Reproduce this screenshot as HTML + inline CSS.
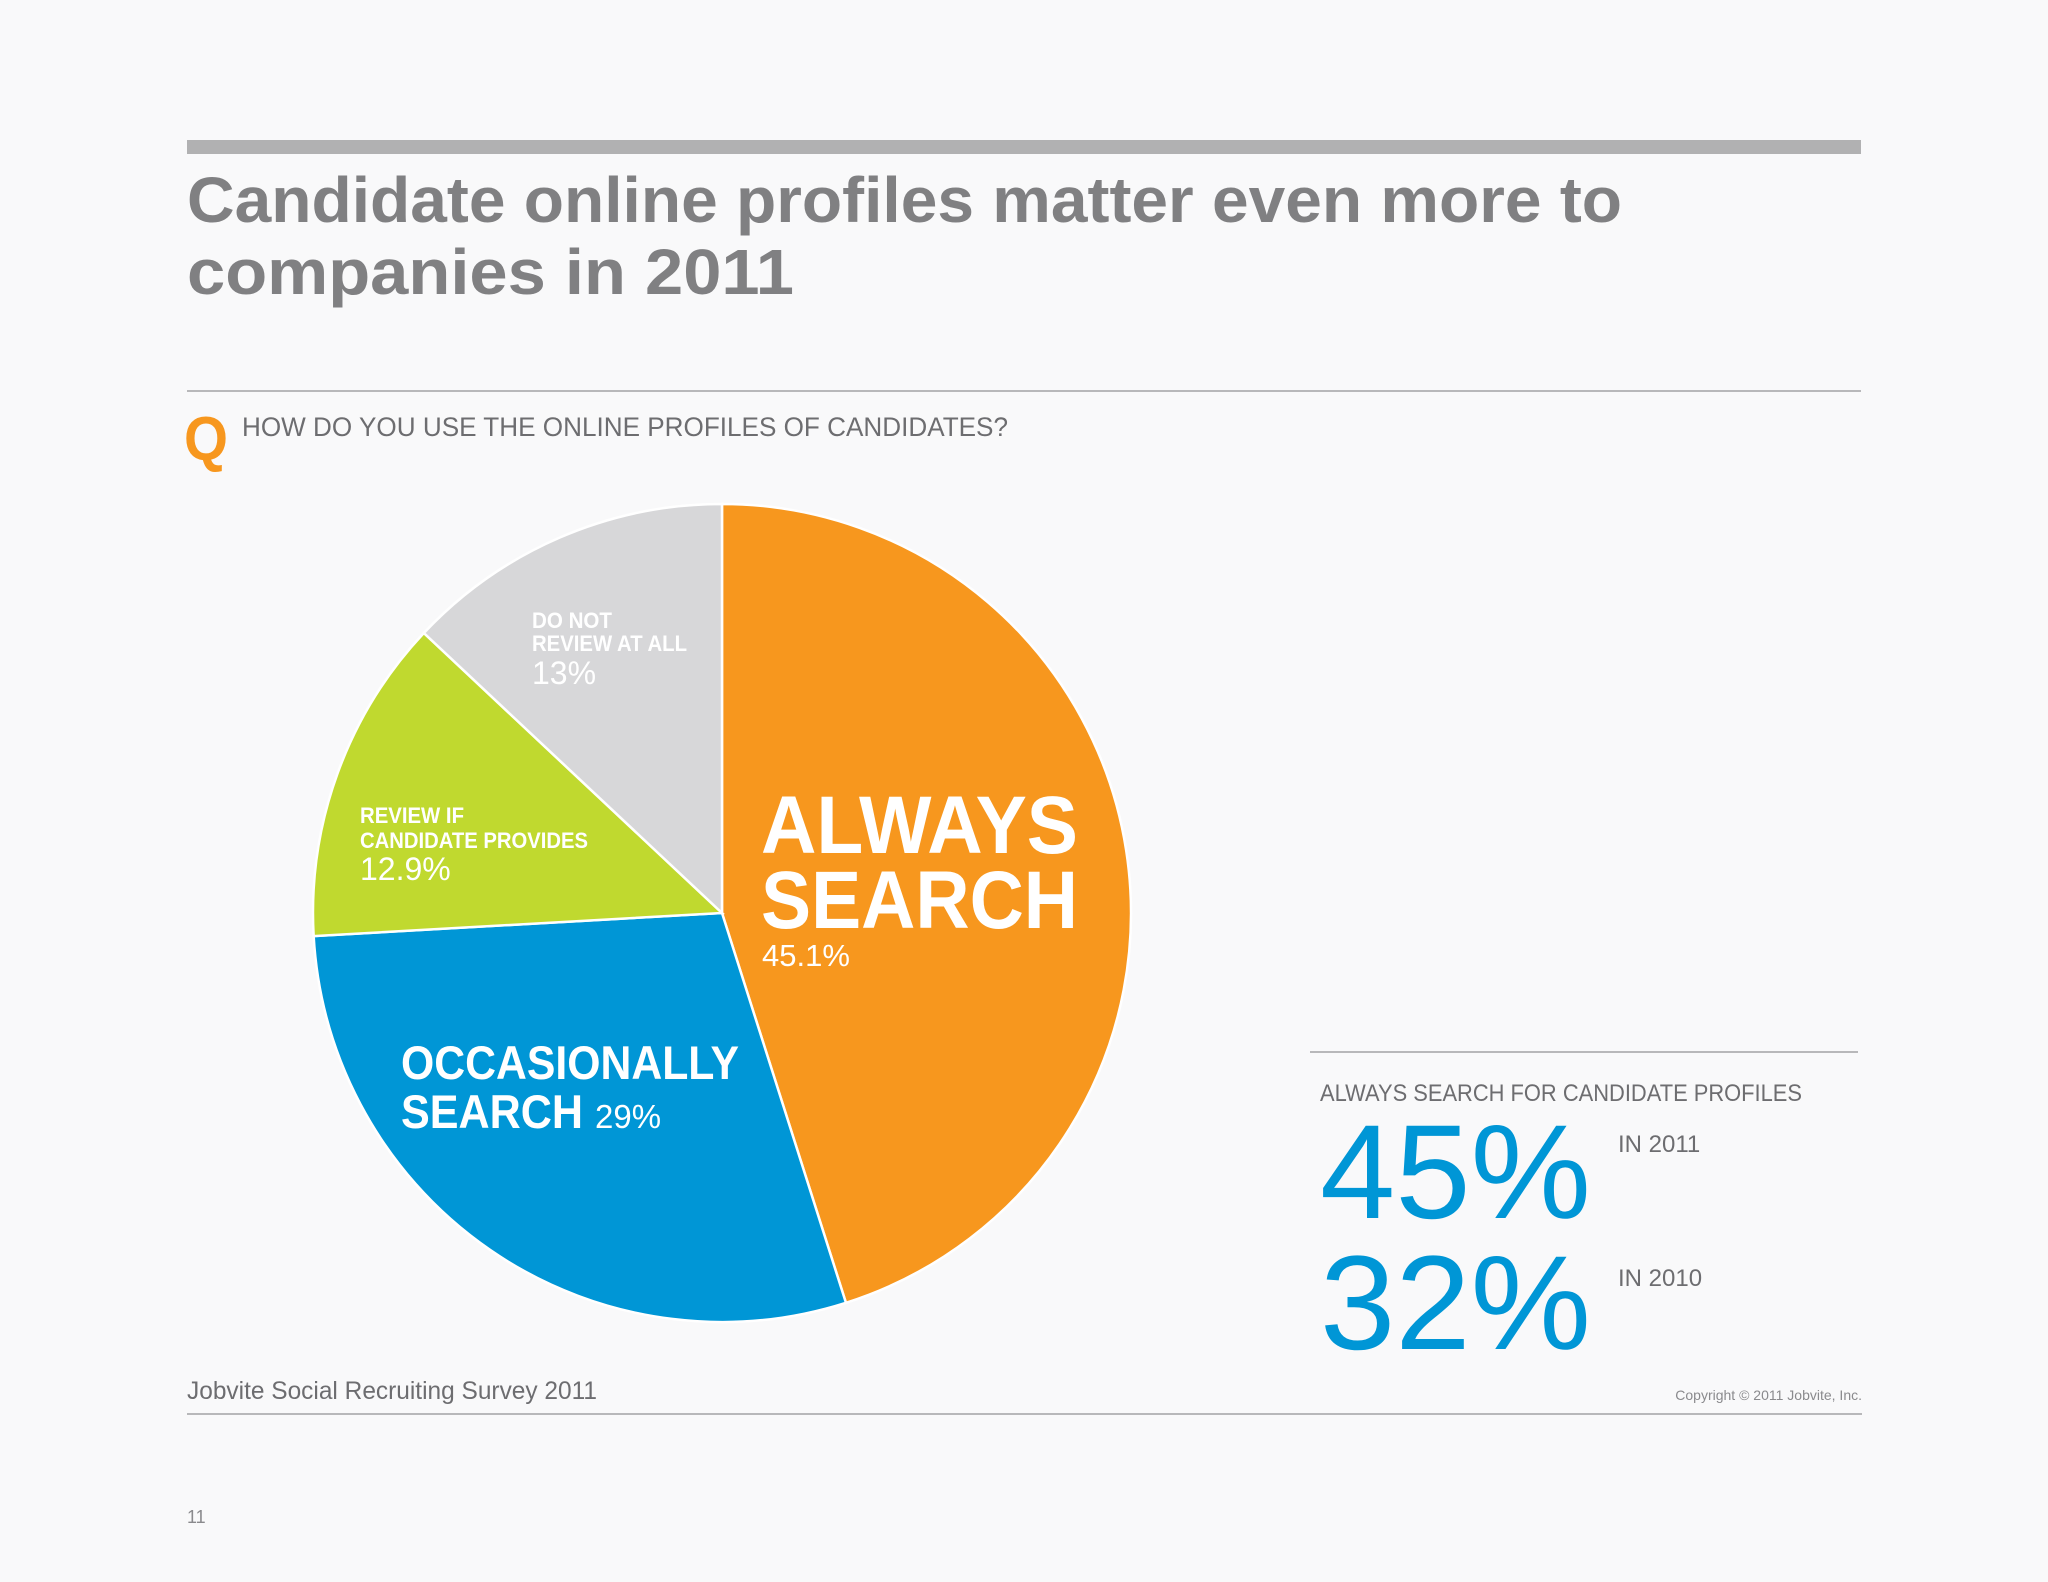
<!DOCTYPE html>
<html><head><meta charset="utf-8"><style>
html,body{margin:0;padding:0;background:#f9f9fa;}
svg{display:block;font-family:"Liberation Sans",Arial,sans-serif;}
</style></head><body>
<svg id="chart" width="2048" height="1582" viewBox="0 0 2048 1582" xmlns="http://www.w3.org/2000/svg">
<rect x="0" y="0" width="2048" height="1582" fill="#f9f9fa"/>
<rect x="187" y="140" width="1674" height="14" fill="#b1b1b2"/>
<text x="187" y="222" font-size="64" font-weight="bold" fill="#808082" textLength="1435" lengthAdjust="spacingAndGlyphs">Candidate online profiles matter even more to</text>
<text x="187" y="294" font-size="64" font-weight="bold" fill="#808082" textLength="607" lengthAdjust="spacingAndGlyphs">companies in 2011</text>
<rect x="187" y="390" width="1674" height="2" fill="#b8b8ba"/>
<text x="184" y="460" font-size="62" font-weight="bold" fill="#f7971e" textLength="44" lengthAdjust="spacingAndGlyphs">Q</text>
<text x="242" y="436" font-size="27" fill="#6d6d70" textLength="766" lengthAdjust="spacingAndGlyphs">HOW DO YOU USE THE ONLINE PROFILES OF CANDIDATES?</text>
<g id="pie"></g>
<g fill="#ffffff" font-weight="bold">
<text x="532" y="628" font-size="22" textLength="80" lengthAdjust="spacingAndGlyphs">DO NOT</text>
<text x="532" y="651" font-size="22" textLength="155" lengthAdjust="spacingAndGlyphs">REVIEW AT ALL</text>
<text x="532" y="684" font-size="32" font-weight="normal">13%</text>
<text x="360" y="823" font-size="22" textLength="104" lengthAdjust="spacingAndGlyphs">REVIEW IF</text>
<text x="360" y="848" font-size="22" textLength="228" lengthAdjust="spacingAndGlyphs">CANDIDATE PROVIDES</text>
<text x="360" y="880" font-size="32" font-weight="normal">12.9%</text>
<text x="761" y="853" font-size="82" textLength="317" lengthAdjust="spacingAndGlyphs">ALWAYS</text>
<text x="761" y="928" font-size="82" textLength="317" lengthAdjust="spacingAndGlyphs">SEARCH</text>
<text x="762" y="966" font-size="31" font-weight="normal">45.1%</text>
<text x="401" y="1079" font-size="47" textLength="338" lengthAdjust="spacingAndGlyphs">OCCASIONALLY</text>
<text x="401" y="1128" font-size="47" textLength="182" lengthAdjust="spacingAndGlyphs">SEARCH</text>
<text x="595" y="1128" font-size="33" font-weight="normal">29%</text>
</g>
<rect x="1310" y="1051" width="548" height="2" fill="#b8b8ba"/>
<text x="1320" y="1101" font-size="24" fill="#6d6d70" textLength="482" lengthAdjust="spacingAndGlyphs">ALWAYS SEARCH FOR CANDIDATE PROFILES</text>
<text x="1320" y="1218" font-size="134" fill="#0096d6" textLength="271" lengthAdjust="spacingAndGlyphs">45%</text>
<text x="1618" y="1152" font-size="24" fill="#6d6d70">IN 2011</text>
<text x="1320" y="1349" font-size="134" fill="#0096d6" textLength="271" lengthAdjust="spacingAndGlyphs">32%</text>
<text x="1618" y="1286" font-size="24" fill="#6d6d70">IN 2010</text>
<text x="187" y="1399" font-size="25" fill="#6d6d70" textLength="410" lengthAdjust="spacingAndGlyphs">Jobvite Social Recruiting Survey 2011</text>
<text x="1862" y="1400" font-size="14" fill="#8a8a8d" text-anchor="end">Copyright © 2011 Jobvite, Inc.</text>
<rect x="187" y="1413" width="1675" height="2" fill="#b8b8ba"/>
<text x="187" y="1523" font-size="18" fill="#8a8a8d">11</text>
</svg>
<script>
const categories = ["Always search", "Occasionally search", "Review if candidate provides", "Do not review at all"];
const values = [45.1, 29, 12.9, 13];
const colors = ["#f7971e", "#0096d6", "#c0d92f", "#d7d7d9"];
const cx = 722, cy = 913, r = 409;
const g = document.getElementById('pie');
const total = values.reduce((a, b) => a + b, 0);
function pt(frac) {
  const a = frac * 2 * Math.PI - Math.PI / 2;
  return [cx + r * Math.cos(a), cy + r * Math.sin(a)];
}
let acc = 0;
values.forEach((v, i) => {
  const s = acc / total, e = (acc + v) / total;
  acc += v;
  const [x1, y1] = pt(s), [x2, y2] = pt(e);
  const large = (e - s) > 0.5 ? 1 : 0;
  const p = document.createElementNS('http://www.w3.org/2000/svg', 'path');
  p.setAttribute('d', `M${cx},${cy} L${x1},${y1} A${r},${r} 0 ${large} 1 ${x2},${y2} Z`);
  p.setAttribute('fill', colors[i]);
  p.setAttribute('stroke', '#ffffff');
  p.setAttribute('stroke-width', '2.5');
  
  
  g.appendChild(p);
});
</script>
</body></html>
